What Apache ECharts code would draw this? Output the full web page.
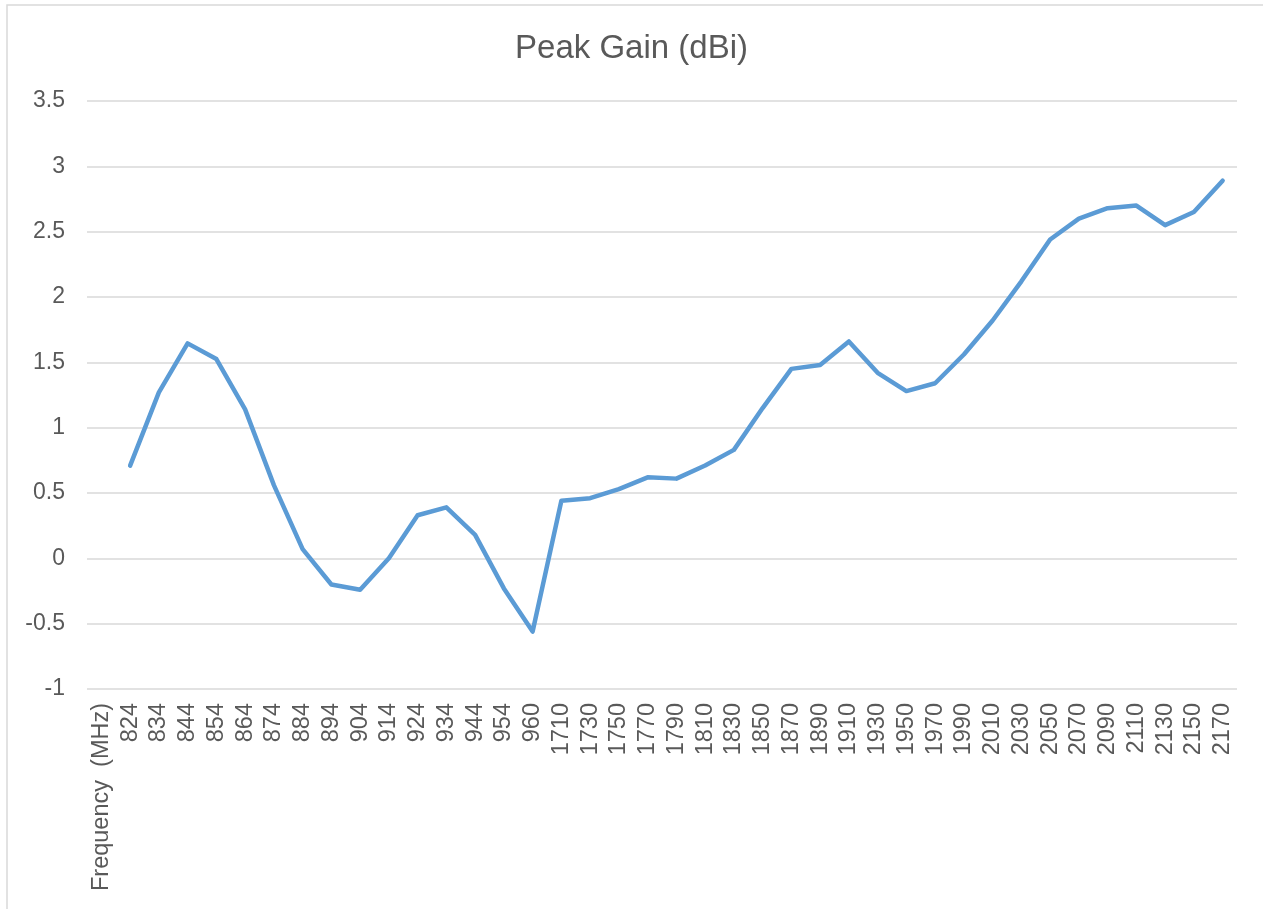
<!DOCTYPE html>
<html>
<head>
<meta charset="utf-8">
<script src="https://cdn.jsdelivr.net/npm/echarts@6/dist/echarts.min.js"></script>
<style>
html,body{margin:0;padding:0;background:#fff;}
#chart{width:1263px;height:909px;}
</style>
</head>
<body>
<div id="chart"></div>
<script>
var categories = ["Frequency  (MHz)", "824", "834", "844", "854", "864", "874", "884", "894", "904", "914", "924", "934", "944", "954", "960",
  "1710", "1730", "1750", "1770", "1790", "1810", "1830", "1850", "1870", "1890", "1910", "1930", "1950", "1970", "1990",
  "2010", "2030", "2050", "2070", "2090", "2110", "2130", "2150", "2170"];
var peakGain = [null, 0.71, 1.27, 1.645, 1.525, 1.14, 0.56, 0.07, -0.20, -0.24, 0.0, 0.33, 0.39, 0.18, -0.23, -0.56,
  0.44, 0.46, 0.53, 0.62, 0.61, 0.71, 0.83, 1.15, 1.45, 1.48, 1.66, 1.42, 1.28, 1.34, 1.56,
  1.82, 2.12, 2.44, 2.60, 2.68, 2.70, 2.55, 2.65, 2.89];
var yMin = -1, yMax = 3.5, yStep = 0.5;
var titleText = "Peak Gain (dBi)";

var chart = echarts.init(document.getElementById('chart'), null, {renderer: 'canvas'});
var font = 'Liberation Sans, Arial, sans-serif';
chart.setOption({
  animation: false,
  backgroundColor: '#ffffff',
  title: {
    text: titleText,
    left: 'center',
    top: 27,
    textStyle: {fontFamily: font, fontSize: 33, fontWeight: 'normal', color: '#595959'}
  },
  graphic: [{
    type: 'rect',
    shape: {x: 7, y: 5, width: 1300, height: 1000},
    style: {fill: 'none', stroke: '#d9d9d9', lineWidth: 1.5},
    silent: true, z: -1
  }],
  grid: {left: 87, right: 26, top: 101, bottom: 220, containLabel: false},
  xAxis: {
    type: 'category',
    data: categories,
    boundaryGap: true,
    axisLine: {show: false},
    axisTick: {show: false},
    axisLabel: {interval: 0, rotate: 90, margin: 14, fontFamily: font, fontSize: 23.5, color: '#595959'}
  },
  yAxis: {
    type: 'value',
    min: yMin, max: yMax, interval: yStep,
    axisLine: {show: false},
    axisTick: {show: false},
    axisLabel: {margin: 22, fontFamily: font, fontSize: 23, color: '#595959', padding: [3, 0, 0, 0]},
    splitLine: {lineStyle: {color: '#d9d9d9', width: 1.5}}
  },
  series: [{
    type: 'line',
    data: peakGain,
    showSymbol: false,
    symbol: 'none',
    lineStyle: {color: '#5B9BD5', width: 4.5, cap: 'round', join: 'round'},
    itemStyle: {color: '#5B9BD5'}
  }]
});
</script>
</body>
</html>
